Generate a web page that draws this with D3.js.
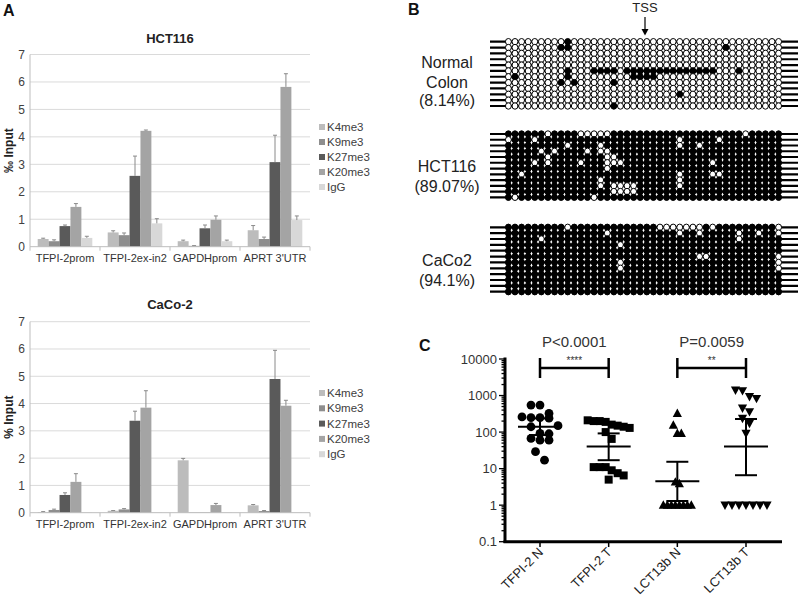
<!DOCTYPE html>
<html><head><meta charset="utf-8">
<script src="https://cdn.jsdelivr.net/npm/d3@7"></script>
<style>body{margin:0;background:#fff}svg{font-family:"Liberation Sans",Arial,sans-serif}</style>
</head><body><svg id="c" width="800" height="602"></svg>
<script>
// ---------- Panel A data ----------
const genes = ["TFPI-2prom", "TFPI-2ex-in2", "GAPDHprom", "APRT 3'UTR"];
const marks = ["K4me3", "K9me3", "K27me3", "K20me3", "IgG"];
const markColors = ["#bcbcbc", "#8e8e8e", "#5a5a5a", "#a4a4a4", "#d8d8d8"];
const yTicksA = [0, 1, 2, 3, 4, 5, 6, 7];

const hctK4me3 = [0.28, 0.52, 0.20, 0.60];
const hctK9me3 = [0.20, 0.42, 0.03, 0.28];
const hctK27me3 = [0.75, 2.58, 0.67, 3.08];
const hctK20me3 = [1.45, 4.22, 0.98, 5.82];
const hctIgG = [0.32, 0.85, 0.20, 0.97];
const hctK4me3Err = [0.03, 0.06, 0.04, 0.17];
const hctK9me3Err = [0.05, 0.08, 0.01, 0.07];
const hctK27me3Err = [0.04, 0.72, 0.12, 0.98];
const hctK20me3Err = [0.12, 0.03, 0.14, 0.48];
const hctIgGErr = [0.06, 0.17, 0.04, 0.15];

const cacoK4me3 = [0.02, 0.07, 1.92, 0.27];
const cacoK9me3 = [0.10, 0.12, 0.01, 0.06];
const cacoK27me3 = [0.65, 3.37, 0.01, 4.90];
const cacoK20me3 = [1.13, 3.85, 0.28, 3.92];
const cacoIgG = [0.01, 0.01, 0.01, 0.01];
const cacoK4me3Err = [0.02, 0.01, 0.07, 0.03];
const cacoK9me3Err = [0.03, 0.03, 0.00, 0.02];
const cacoK27me3Err = [0.08, 0.35, 0.00, 1.05];
const cacoK20me3Err = [0.30, 0.62, 0.06, 0.20];
const cacoIgGErr = [0.00, 0.00, 0.00, 0.00];

// ---------- Panel B data (CpG sites: 42 per clone, 12 clones) ----------
const cpgSites = d3.range(42);
const clones = d3.range(12);
// Normal colon: mostly unmethylated, listed = methylated sites [clone, sites]
const normalMethylated = [[0,[9]],[1,[8,9,33]],[5,[9,13,14,15,16,18,19,20,21,22,23,24,25,26,27,28,29,30,31,35]],[6,[1,9,19,20,21,22]],[7,[8,10,16]],[9,[26]],[11,[16]]];
// HCT116 / CaCo2: mostly methylated, listed = unmethylated sites
const hctUnmethylated = [[0,[6,11,12,13,14,15,36]],[1,[0,4,26,32]],[2,[9,14,26,29]],[3,[5,7,12,14,15]],[4,[6,15,16]],[5,[4,6,11,15,16,17,31]],[6,[15]],[7,[2,26,31,32]],[8,[14,26]],[9,[14,16,17,18,19,26]],[10,[16,17,18,19]],[11,[1,13]]];
const cacoUnmethylated = [[0,[9,23,24,25,26,27,28,29,31,41]],[1,[15,26,29,35,38,41]],[2,[5,35]],[3,[17]],[5,[29,30,41]],[6,[17,41]],[7,[17,41]]];

// ---------- Panel C data ----------
const cGroups = ["TFPI-2 N", "TFPI-2 T", "LCT13b N", "LCT13b T"];
const tfpiN = [550, 550, 325, 260, 250, 250, 240, 150, 140, 92, 90, 67, 60, 60, 29, 17];
const tfpiT = [210, 200, 200, 190, 160, 150, 140, 130, 100, 65, 11, 11, 11, 9, 7.5, 6.5, 5];
const lctN = [325, 155, 92, 92, 4.3, 3.9, 1, 1, 1, 1, 1, 1, 1, 1];
const lctT = [1400, 1350, 930, 830, 450, 360, 237, 173, 92, 1, 1, 1, 1, 1, 1, 1];
const cMean = [139, 40, 4.5, 40];
const cLow = [83, 17, 1.3, 6.6];
const cHigh = [237, 92, 15.4, 228];
const cTicks = [0.1, 1, 10, 100, 1000, 10000];
const comparisons = [
  {a: "TFPI-2 N", b: "TFPI-2 T", p: "P<0.0001", stars: "****"},
  {a: "LCT13b N", b: "LCT13b T", p: "P=0.0059", stars: "**"}
];

const svg = d3.select("#c");
const lab = (t, x, y) => svg.append("text").text(t).attr("x", x).attr("y", y)
  .attr("font-size", 16).attr("font-weight", "bold").attr("fill", "#111");
lab("A", 3, 16); lab("B", 408, 15); lab("C", 419, 351);

// ---------- Panel A ----------
function barChart(title, series, errs, top, bottom, ylab, titleY, legY, legStep) {
  const g = svg.append("g");
  const y = d3.scaleLinear().domain([0, 7]).range([bottom, top]);
  const x0 = d3.scaleBand().domain(genes).range([30, 310]).paddingInner(0.22).paddingOuter(0.11);
  const x1 = d3.scaleBand().domain(marks).range([0, x0.bandwidth()]);
  g.selectAll(".grid").data(yTicksA.slice(1)).join("line")
    .attr("x1", 30).attr("x2", 310).attr("y1", d => y(d)).attr("y2", d => y(d))
    .attr("stroke", "#dadada").attr("stroke-width", 1);
  g.append("line").attr("x1", 30).attr("x2", 30).attr("y1", top).attr("y2", bottom)
    .attr("stroke", "#bdbdbd");
  g.selectAll(".yt").data(yTicksA).join("text")
    .attr("x", 25).attr("y", d => y(d) + 4.5).attr("text-anchor", "end")
    .attr("font-size", 12).attr("fill", "#404040").text(d => d);
  marks.forEach((m, mi) => {
    const vals = series[mi], ev = errs[mi];
    g.selectAll(".b" + mi).data(genes).join("rect")
      .attr("x", d => x0(d) + x1(m)).attr("width", x1.bandwidth())
      .attr("y", (d, i) => y(vals[i])).attr("height", (d, i) => y(0) - y(vals[i]))
      .attr("fill", markColors[mi]);
    genes.forEach((gn, i) => {
      if (ev[i] <= 0) return;
      const cx = x0(gn) + x1(m) + x1.bandwidth() / 2;
      g.append("line").attr("x1", cx).attr("x2", cx).attr("y1", y(vals[i])).attr("y2", y(vals[i] + ev[i]))
        .attr("stroke", "#8a8a8a").attr("stroke-width", 1);
      g.append("line").attr("x1", cx - 2).attr("x2", cx + 2).attr("y1", y(vals[i] + ev[i])).attr("y2", y(vals[i] + ev[i]))
        .attr("stroke", "#8a8a8a").attr("stroke-width", 1);
    });
  });
  g.append("line").attr("x1", 30).attr("x2", 310).attr("y1", y(0)).attr("y2", y(0)).attr("stroke", "#bdbdbd");
  const bounds = genes.map(d => x0(d) - x0.step() * 0.11).concat([310]);
  g.selectAll(".xt").data(bounds).join("line")
    .attr("x1", d => d).attr("x2", d => d).attr("y1", y(0)).attr("y2", y(0) + 4).attr("stroke", "#bdbdbd");
  g.selectAll(".xl").data(genes).join("text")
    .attr("x", d => x0(d) + x0.bandwidth() / 2).attr("y", y(0) + 15)
    .attr("text-anchor", "middle").attr("font-size", 11).attr("fill", "#333").text(d => d);
  g.append("text").attr("x", 170).attr("y", titleY).attr("text-anchor", "middle")
    .attr("font-size", 13).attr("font-weight", "bold").attr("fill", "#222").text(title);
  g.append("text").attr("transform", `translate(13,${(top + bottom) / 2}) rotate(-90)`)
    .attr("text-anchor", "middle").attr("font-size", 12).attr("font-weight", "bold").attr("fill", "#222").text(ylab);
  marks.forEach((m, mi) => {
    g.append("rect").attr("x", 319).attr("y", legY + legStep * mi - 3).attr("width", 6).attr("height", 6).attr("fill", markColors[mi]);
    g.append("text").attr("x", 327).attr("y", legY + legStep * mi + 4).attr("font-size", 11.5).attr("fill", "#404040").text(m);
  });
}
barChart("HCT116", [hctK4me3, hctK9me3, hctK27me3, hctK20me3, hctIgG],
  [hctK4me3Err, hctK9me3Err, hctK27me3Err, hctK20me3Err, hctIgGErr],
  54.5, 246.7, "‰ Input", 43, 127, 15);
barChart("CaCo-2", [cacoK4me3, cacoK9me3, cacoK27me3, cacoK20me3, cacoIgG],
  [cacoK4me3Err, cacoK9me3Err, cacoK27me3Err, cacoK20me3Err, cacoIgGErr],
  321.7, 512.7, "% Input", 309, 393, 15.3);

// ---------- Panel B ----------
const xs = d3.scalePoint().domain(cpgSites).range([508.4, 778.6]);
function methBlock(top, bottom, baseFilled, exceptions, labels, labY) {
  const g = svg.append("g");
  const ys = d3.scalePoint().domain(clones).range([top, bottom]);
  const ex = new Set();
  exceptions.forEach(([r, cs]) => cs.forEach(c => ex.add(r + "_" + c)));
  g.selectAll(".ln").data(clones).join("line")
    .attr("x1", 490).attr("x2", 798).attr("y1", d => ys(d)).attr("y2", d => ys(d))
    .attr("stroke", "#000").attr("stroke-width", 2.2);
  const cells = [];
  clones.forEach(r => cpgSites.forEach(c => cells.push({r, c, f: ex.has(r + "_" + c) ? !baseFilled : baseFilled})));
  g.selectAll(".cp").data(cells).join("ellipse")
    .attr("cx", d => xs(d.c)).attr("cy", d => ys(d.r)).attr("rx", 2.95).attr("ry", 3.2)
    .attr("fill", d => d.f ? "#000" : "#fff").attr("stroke", "#000").attr("stroke-width", 1);
  labels.forEach((t, i) => g.append("text").attr("x", 447).attr("y", labY[i]).attr("text-anchor", "middle")
    .attr("font-size", 16).attr("fill", "#222").text(t));
}
methBlock(41.7, 106, false, normalMethylated, ["Normal", "Colon", "(8.14%)"], [68, 88, 106]);
methBlock(134, 197.3, true, hctUnmethylated, ["HCT116", "(89.07%)"], [172, 192]);
methBlock(227.3, 291.7, true, cacoUnmethylated, ["CaCo2", "(94.1%)"], [266, 286]);
svg.append("text").attr("x", 645).attr("y", 12).attr("text-anchor", "middle").attr("font-size", 13).attr("fill", "#222").text("TSS");
svg.append("line").attr("x1", 645).attr("x2", 645).attr("y1", 17).attr("y2", 30).attr("stroke", "#000").attr("stroke-width", 1.2);
svg.append("path").attr("d", "M641.5,29 L648.5,29 L645,35.5 Z").attr("fill", "#000");

// ---------- Panel C ----------
const yc = d3.scaleLog().domain([0.1, 10000]).range([541.7, 359]);
const xc = d3.scalePoint().domain(cGroups).range([540, 746]);
const gc = svg.append("g");
const allTicks = yc.ticks();
gc.selectAll(".mt").data(allTicks).join("line")
  .attr("x1", d => cTicks.includes(d) ? 499 : 501.5).attr("x2", 505)
  .attr("y1", d => yc(d)).attr("y2", d => yc(d)).attr("stroke", "#000").attr("stroke-width", 1.3);
gc.append("line").attr("x1", 505).attr("x2", 505).attr("y1", 357.5).attr("y2", 543).attr("stroke", "#000").attr("stroke-width", 3);
gc.append("line").attr("x1", 503.5).attr("x2", 782).attr("y1", 541.7).attr("y2", 541.7).attr("stroke", "#000").attr("stroke-width", 3);
gc.selectAll(".ctl").data(cTicks).join("text")
  .attr("x", 497).attr("y", d => yc(d) + 4.5).attr("text-anchor", "end")
  .attr("font-size", 13).attr("fill", "#333").text(d => d);
gc.selectAll(".cxt").data(cGroups).join("line")
  .attr("x1", d => xc(d)).attr("x2", d => xc(d)).attr("y1", 541.7).attr("y2", 547).attr("stroke", "#000").attr("stroke-width", 1.5);
gc.selectAll(".cxl").data(cGroups).join("text")
  .attr("transform", d => `translate(${xc(d) + 4},${553}) rotate(-45)`)
  .attr("text-anchor", "end").attr("font-size", 13).attr("fill", "#222").text(d => d);

function swarm(vals, dx, h) {
  const pts = vals.map(v => ({v, y: yc(v)})).sort((a, b) => a.y - b.y);
  const bins = [];
  pts.forEach(p => {
    const last = bins[bins.length - 1];
    if (last && p.y - last[0].y < h) last.push(p); else bins.push([p]);
  });
  bins.forEach(b => b.forEach((p, i) => p.off = (i - (b.length - 1) / 2) * dx));
  return pts;
}
const groupVals = [tfpiN, tfpiT, lctN, lctT];
const groupDx = [9, 6, 4, 7];
const shapes = [
  "M0,0 m-4.4,0 a4.4,4.4 0 1,0 8.8,0 a4.4,4.4 0 1,0 -8.8,0",
  "M-4,-4 L4,-4 L4,4 L-4,4 Z",
  "M0,-4.8 L4.6,3.6 L-4.6,3.6 Z",
  "M-4.6,-3.6 L4.6,-3.6 L0,4.8 Z"
];
cGroups.forEach((gname, gi) => {
  const pts = swarm(groupVals[gi], groupDx[gi], 9);
  gc.selectAll(".pt" + gi).data(pts).join("path")
    .attr("d", shapes[gi]).attr("transform", d => `translate(${xc(gname) + d.off},${d.y})`).attr("fill", "#000");
  const cx = xc(gname);
  gc.append("line").attr("x1", cx - 22).attr("x2", cx + 22).attr("y1", yc(cMean[gi])).attr("y2", yc(cMean[gi])).attr("stroke", "#000").attr("stroke-width", 2);
  gc.append("line").attr("x1", cx).attr("x2", cx).attr("y1", yc(cLow[gi])).attr("y2", yc(cHigh[gi])).attr("stroke", "#000").attr("stroke-width", 2);
  [cLow[gi], cHigh[gi]].forEach(v => gc.append("line").attr("x1", cx - 11).attr("x2", cx + 11).attr("y1", yc(v)).attr("y2", yc(v)).attr("stroke", "#000").attr("stroke-width", 2));
});
comparisons.forEach(c => {
  const xa = xc(c.a), xb = xc(c.b), mid = (xa + xb) / 2;
  gc.append("line").attr("x1", xa).attr("x2", xb).attr("y1", 368).attr("y2", 368).attr("stroke", "#000").attr("stroke-width", 2.5);
  [xa, xb].forEach(x => gc.append("line").attr("x1", x).attr("x2", x).attr("y1", 358).attr("y2", 378).attr("stroke", "#000").attr("stroke-width", 2.5));
  gc.append("text").attr("x", mid).attr("y", 347).attr("text-anchor", "middle").attr("font-size", 15).attr("fill", "#333").text(c.p);
  gc.append("text").attr("x", mid).attr("y", 364).attr("text-anchor", "middle").attr("font-size", 10).attr("fill", "#333").text(c.stars);
});
</script></body></html>
